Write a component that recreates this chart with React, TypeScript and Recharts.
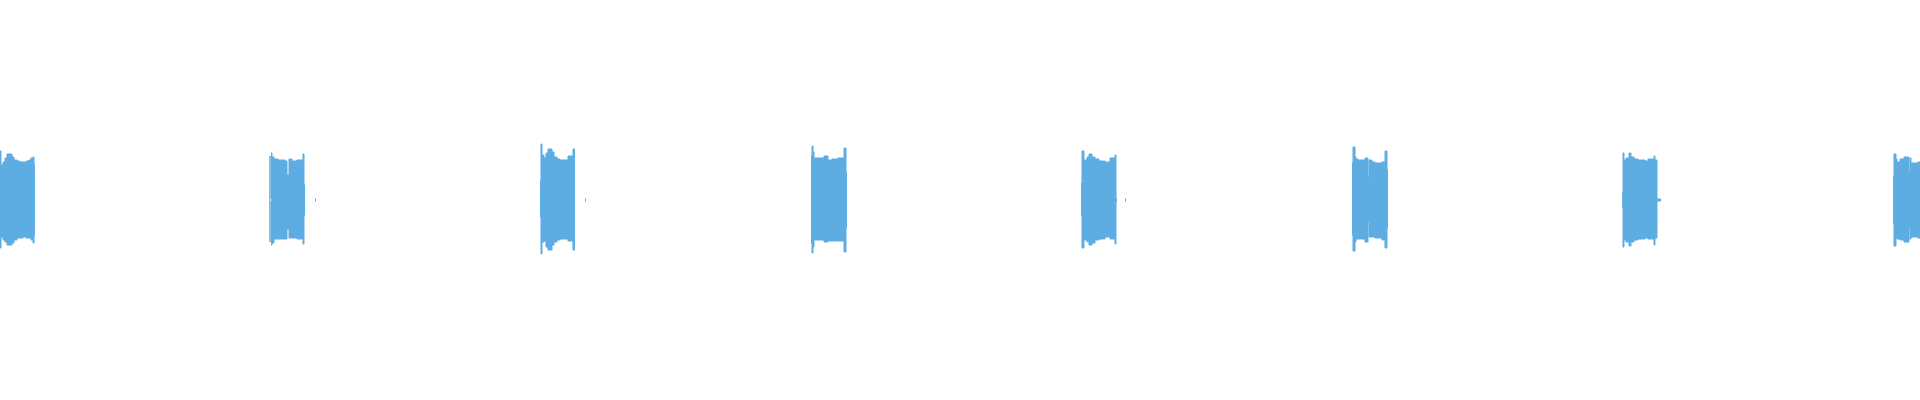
import { AreaChart, Area, XAxis, YAxis } from 'recharts'

// waveform bursts: start time (ms), sample offsets, upper / lower envelope
const burstStarts = [0, 270, 540, 811, 1081, 1352, 1622, 1893]
const burstEnds = [35, 35, 35, 36, 36, 36, 39, 27]

const offsets1 = [0, 1, 3, 5, 7, 10, 12, 14, 17, 20, 23, 26, 29, 31, 33, 34]
const upper1 = [49, 35, 38, 42, 46, 46, 43, 40, 39, 38, 38, 39, 40, 42, 43, 35]
const lower1 = [-48, -37, -40, -42, -45, -45, -43, -40, -38, -38, -37, -38, -38, -40, -43, -35]

const offsets2 = [0, 1, 2, 4, 8, 15, 17, 19, 22, 27, 33, 34]
const upper2 = [44, 47, 43, 41, 40, 39, 25, 41, 39, 40, 46, 15]
const lower2 = [-42, -45, -43, -39, -39, -39, -29, -38, -38, -39, -44, -15]

const offsets3 = [0, 1, 2, 4, 6, 8, 12, 14, 17, 20, 28, 33]
const upper3 = [19, 56, 45, 42, 47, 51, 48, 43, 41, 40, 44, 51]
const lower3 = [-17, -54, -42, -41, -47, -50, -45, -42, -40, -39, -41, -50]

const offsets4 = [0, 1, 2, 3, 13, 17, 21, 27, 33, 35]
const upper4 = [44, 54, 48, 42, 44, 40, 41, 42, 52, 28]
const lower4 = [-43, -53, -47, -40, -42, -41, -41, -41, -52, -28]

const offsets5 = [0, 1, 3, 6, 8, 11, 14, 18, 24, 29, 34, 35]
const upper5 = [17, 49, 40, 43, 46, 43, 41, 39, 38, 42, 45, 1]
const lower5 = [-16, -48, -40, -42, -45, -43, -40, -39, -37, -39, -44, -1]

const offsets6 = [0, 1, 3, 4, 6, 13, 16, 17, 20, 23, 30, 33, 35]
const upper6 = [37, 53, 43, 41, 40, 42, 23, 40, 38, 37, 38, 49, 30]
const lower6 = [-35, -51, -42, -39, -39, -42, -22, -37, -37, -38, -40, -48, -28]

const offsets7 = [0, 1, 2, 4, 7, 9, 12, 16, 23, 26, 32, 33, 35]
const upper7 = [7, 47, 40, 42, 47, 43, 41, 40, 39, 41, 44, 40, 1]
const lower7 = [-7, -47, -40, -42, -46, -42, -40, -39, -38, -39, -45, -38, -1]

const offsets8 = [0, 1, 3, 4, 7, 11, 16, 17, 18, 21, 25]
const upper8 = [23, 46, 41, 38, 41, 43, 28, 42, 37, 37, 38]
const lower8 = [-23, -46, -38, -39, -40, -42, -27, -39, -37, -37, -38]

// isolated single samples between bursts
const clicks = [269, 315, 585, 1125]

const bursts = [
  [offsets1, upper1, lower1],
  [offsets2, upper2, lower2],
  [offsets3, upper3, lower3],
  [offsets4, upper4, lower4],
  [offsets5, upper5, lower5],
  [offsets6, upper6, lower6],
  [offsets7, upper7, lower7],
  [offsets8, upper8, lower8],
]

type Row = { t: number; range: [number, number] | null }

const rows: Row[] = []
bursts.forEach(([offs, up, lo], i) => {
  const start = burstStarts[i]
  offs.forEach((o, j) => rows.push({ t: start + o, range: [lo[j], up[j]] }))
  const last = offs.length - 1
  rows.push({ t: start + burstEnds[i], range: [lo[last], up[last]] })
  rows.push({ t: start + burstEnds[i] + 0.01, range: null })
})
clicks.forEach((c) => {
  rows.push({ t: c, range: [-1, 1] })
  rows.push({ t: c + 1, range: [-1, 1] })
  rows.push({ t: c + 1.01, range: null })
})
rows.sort((a, b) => a.t - b.t)

export default function App() {
  return (
    <div style={{ position: 'absolute', left: 0, top: 0, width: 1920, height: 400, background: '#fff' }}>
      <AreaChart width={1920} height={400} data={rows} margin={{ top: 0, right: 0, bottom: 0, left: 0 }}>
        <XAxis dataKey="t" type="number" domain={[0, 1920]} hide />
        <YAxis type="number" domain={[-200, 200]} hide />
        <Area
          type="stepAfter"
          dataKey="range"
          stroke="#5eade2"
          strokeWidth={1}
          fill="#5eade2"
          fillOpacity={1}
          dot={false}
          activeDot={false}
          connectNulls={false}
          isAnimationActive={false}
        />
      </AreaChart>
    </div>
  )
}
